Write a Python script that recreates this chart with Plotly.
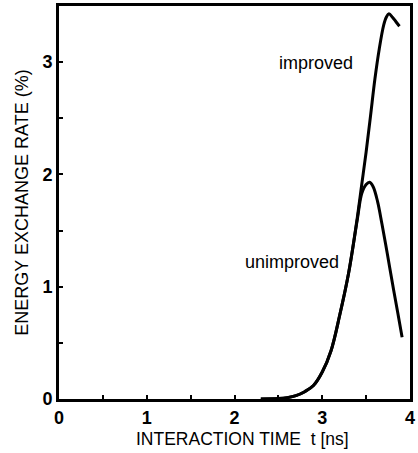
import plotly.graph_objects as go

# Interaction time t [ns]
t_improved = [2.3, 2.5, 2.6, 2.7, 2.8, 2.9, 3.0, 3.1, 3.2, 3.3, 3.4, 3.45, 3.5, 3.55, 3.6, 3.65,
              3.7, 3.73, 3.76, 3.8, 3.84, 3.88]
rate_improved = [0.0, 0.004, 0.012, 0.03, 0.065, 0.12, 0.24, 0.43, 0.75, 1.12, 1.62, 1.91, 2.2,
                 2.52, 2.85, 3.12, 3.33, 3.40, 3.43, 3.40, 3.36, 3.32]

t_unimproved = [2.3, 2.5, 2.6, 2.7, 2.8, 2.9, 3.0, 3.1, 3.2, 3.3, 3.4, 3.45, 3.5, 3.54, 3.58,
                3.63, 3.68, 3.74, 3.8, 3.86, 3.91]
rate_unimproved = [0.0, 0.004, 0.012, 0.03, 0.065, 0.12, 0.24, 0.43, 0.75, 1.12, 1.60, 1.83, 1.91,
                   1.93, 1.89, 1.76, 1.56, 1.30, 1.03, 0.77, 0.55]

x_tick_vals = [0, 0.5, 1, 1.5, 2, 2.5, 3, 3.5, 4]
x_tick_text = ["0", "", "1", "", "2", "", "3", "", "4"]
y_tick_vals = [0, 0.5, 1, 1.5, 2, 2.5, 3]
y_tick_text = ["0", "", "1", "", "2", "", "3"]

labels = ["improved", "unimproved"]
label_x = [2.93, 2.65]
label_y = [2.99, 1.22]

x_title = "INTERACTION TIME  t [ns]"
y_title = "ENERGY EXCHANGE RATE (%)"

FONT = "Liberation Sans, Arial, Helvetica, sans-serif"

fig = go.Figure()
fig.add_trace(go.Scatter(x=t_improved, y=rate_improved, mode="lines",
                         line=dict(color="black", width=3, shape="spline"), name=labels[0]))
fig.add_trace(go.Scatter(x=t_unimproved, y=rate_unimproved, mode="lines",
                         line=dict(color="black", width=3, shape="spline"), name=labels[1]))

for txt, lx, ly in zip(labels, label_x, label_y):
    fig.add_annotation(x=lx, y=ly, text=txt, showarrow=False,
                       font=dict(family=FONT, size=18, color="black"))

# x-axis title, placed slightly right of centre as in the original
fig.add_annotation(xref="paper", yref="paper", x=0.524, y=0, yshift=-40,
                   xanchor="center", yanchor="middle", text=x_title, showarrow=False,
                   font=dict(family=FONT, size=17.5, color="black"))

fig.update_layout(
    width=418, height=453,
    margin=dict(l=59, r=6, t=3, b=54),
    plot_bgcolor="white", paper_bgcolor="white",
    showlegend=False,
    font=dict(family=FONT, color="black"),
)
fig.update_xaxes(
    range=[0, 4], tickvals=x_tick_vals, ticktext=x_tick_text,
    ticks="inside", ticklen=4, tickwidth=1.5, tickcolor="black",
    showline=True, linecolor="black", linewidth=3, mirror=True,
    showgrid=False, zeroline=False,
    tickfont=dict(family=FONT, size=18, color="black", weight="bold"),
)
fig.update_yaxes(
    range=[0, 3.5], tickvals=y_tick_vals, ticktext=y_tick_text,
    ticks="inside", ticklen=4, tickwidth=1.5, tickcolor="black",
    showline=True, linecolor="black", linewidth=3, mirror=True,
    showgrid=False, zeroline=False,
    tickfont=dict(family=FONT, size=18, color="black", weight="bold"),
    title=dict(text=y_title, font=dict(family=FONT, size=18, color="black"),
               standoff=10),
)

fig.write_html("out.html")
